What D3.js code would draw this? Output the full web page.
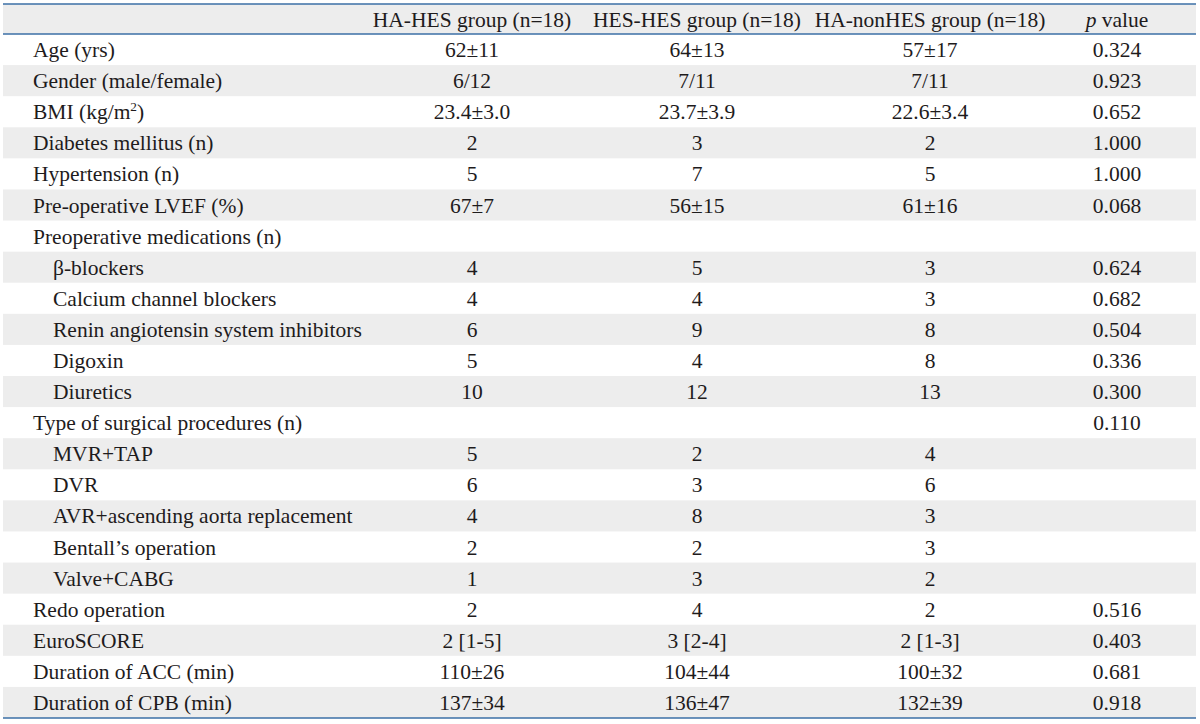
<!DOCTYPE html>
<html>
<head>
<meta charset="utf-8">
<script src="https://cdn.jsdelivr.net/npm/d3@7"></script>
<style>
  html, body { margin: 0; padding: 0; background: #ffffff; }
  svg { display: block; }
</style>
</head>
<body>
<svg id="chart" width="1200" height="724"></svg>
<script>
const columns = ["label", "haHes", "hesHes", "haNonHes", "p"];
const headers = ["", "HA-HES group (n=18)", "HES-HES group (n=18)", "HA-nonHES group (n=18)", "p value"];
const rowLabels = [
  "Age (yrs)", "Gender (male/female)", "BMI (kg/m2)", "Diabetes mellitus (n)", "Hypertension (n)",
  "Pre-operative LVEF (%)", "Preoperative medications (n)", "β-blockers", "Calcium channel blockers",
  "Renin angiotensin system inhibitors", "Digoxin", "Diuretics", "Type of surgical procedures (n)",
  "MVR+TAP", "DVR", "AVR+ascending aorta replacement", "Bentall’s operation", "Valve+CABG",
  "Redo operation", "EuroSCORE", "Duration of ACC (min)", "Duration of CPB (min)"
];
const rowLevel = [0,0,0,0,0,0,0,1,1,1,1,1,0,1,1,1,1,1,0,0,0,0];
const haHes = ["62±11","6/12","23.4±3.0","2","5","67±7","","4","4","6","5","10","","5","6","4","2","1","2","2 [1-5]","110±26","137±34"];
const hesHes = ["64±13","7/11","23.7±3.9","3","7","56±15","","5","4","9","4","12","","2","3","8","2","3","4","3 [2-4]","104±44","136±47"];
const haNonHes = ["57±17","7/11","22.6±3.4","2","5","61±16","","3","3","8","8","13","","4","6","3","3","2","2","2 [1-3]","100±32","132±39"];
const pValue = ["0.324","0.923","0.652","1.000","1.000","0.068","","0.624","0.682","0.504","0.336","0.300","0.110","","","","","","0.516","0.403","0.681","0.918"];

const tblLeft = 3, tblRight = 1196;
const tblTop = 4, headerH = 30;
const bodyTop = tblTop + headerH, bodyBottom = 718;
const FONT = "'Liberation Serif', 'Times New Roman', serif";
const FS = 21.5;
const TEXT = "#1e1b1c";
const SHADE = "#ededed";
const LINE = "#3b6fa6";

const svg = d3.select("#chart");

const rows = rowLabels.map((label, i) => ({
  label, level: rowLevel[i],
  haHes: haHes[i], hesHes: hesHes[i], haNonHes: haNonHes[i], p: pValue[i], i
}));

const y = d3.scaleBand().domain(d3.range(rows.length)).range([bodyTop, bodyBottom]).padding(0);
const colX = d3.scaleOrdinal().domain(columns.slice(1)).range([472, 697, 930, 1117]);

svg.append("rect").attr("x", tblLeft).attr("y", tblTop).attr("width", tblRight - tblLeft).attr("height", headerH).attr("fill", SHADE);

svg.append("g").selectAll("rect")
  .data(rows.filter(d => d.i % 2 === 1))
  .join("rect")
  .attr("x", tblLeft).attr("width", tblRight - tblLeft)
  .attr("y", d => y(d.i)).attr("height", y.bandwidth())
  .attr("fill", SHADE);

const hg = svg.append("g").attr("font-family", FONT).attr("font-size", FS).attr("fill", TEXT);
columns.slice(1).forEach((c, k) => {
  const t = hg.append("text").attr("x", colX(c)).attr("y", tblTop + headerH / 2).attr("dy", "0.35em").attr("text-anchor", "middle");
  const h = headers[k + 1];
  if (c === "p") {
    t.append("tspan").attr("font-style", "italic").text("p");
    t.append("tspan").text(h.slice(1));
  } else {
    t.text(h);
  }
});

const g = svg.append("g").attr("font-family", FONT).attr("font-size", FS).attr("fill", TEXT);
const rowG = g.selectAll("g.row").data(rows).join("g").attr("class", "row")
  .attr("transform", d => `translate(0,${y(d.i) + y.bandwidth() / 2})`);

rowG.each(function(d) {
  const sel = d3.select(this);
  const lt = sel.append("text").attr("x", d.level ? 53 : 33).attr("dy", "0.35em");
  const m = d.label.match(/^(.*m)2(\))$/);
  if (m) {
    lt.append("tspan").text(m[1]);
    lt.append("tspan").attr("font-size", FS * 0.62).attr("dy", "-0.6em").text("2");
    lt.append("tspan").attr("dy", "0.37em").text(m[2]);
  } else {
    lt.text(d.label);
  }
  columns.slice(1).forEach(c => {
    if (d[c]) sel.append("text").attr("x", colX(c)).attr("dy", "0.35em").attr("text-anchor", "middle").text(d[c]);
  });
});

const lines = [tblTop, bodyTop, bodyBottom];
svg.append("g").selectAll("line").data(lines).join("line")
  .attr("x1", tblLeft).attr("x2", tblRight)
  .attr("y1", d => d).attr("y2", d => d)
  .attr("stroke", LINE).attr("stroke-width", 1.6);
</script>
</body>
</html>
